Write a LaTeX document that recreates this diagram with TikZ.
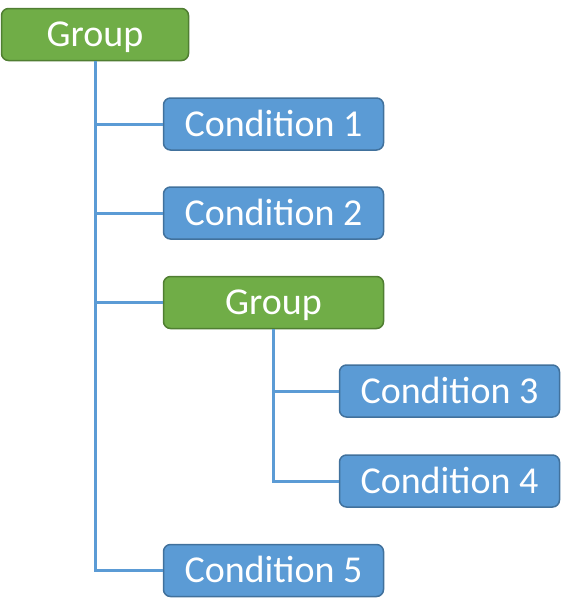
\documentclass[tikz,border=0pt]{standalone}
\usepackage{fontspec}
\setmainfont{Carlito}
\definecolor{gfill}{HTML}{70AD47}
\definecolor{gdraw}{HTML}{507E32}
\definecolor{bfill}{HTML}{5B9BD5}
\definecolor{bdraw}{HTML}{41719C}
\begin{document}
\begin{tikzpicture}[x=1pt,y=-1pt,
  box/.style={rounded corners=7pt,line width=1.5pt,minimum height=52pt,inner sep=0pt,text=white,font=\fontsize{38}{42}\selectfont,text height=24pt,text depth=0pt},
  grp/.style={box,fill=gfill,draw=gdraw},
  cnd/.style={box,fill=bfill,draw=bdraw},
  link/.style={draw=bfill,line width=3pt}]
\useasboundingbox (0,0) rectangle (561,616);
\node[grp,minimum width=187pt] (g1) at (95,34.5) {Group};
\node[cnd,minimum width=220pt] (c1) at (273.5,124) {Condition 1};
\node[cnd,minimum width=220pt] (c2) at (273.5,213) {Condition 2};
\node[grp,minimum width=220pt] (g2) at (273.5,302.5) {Group};
\node[cnd,minimum width=220pt] (c3) at (449.5,391) {Condition 3};
\node[cnd,minimum width=220pt] (c4) at (449.5,481) {Condition 4};
\node[cnd,minimum width=220pt] (c5) at (273.5,570.5) {Condition 5};
\draw[link] (g1.south) |- (c1.west);
\draw[link] (g1.south) |- (c2.west);
\draw[link] (g1.south) |- (g2.west);
\draw[link] (g1.south) |- (c5.west);
\draw[link] (g2.south) |- (c3.west);
\draw[link] (g2.south) |- (c4.west);
\end{tikzpicture}
\end{document}
